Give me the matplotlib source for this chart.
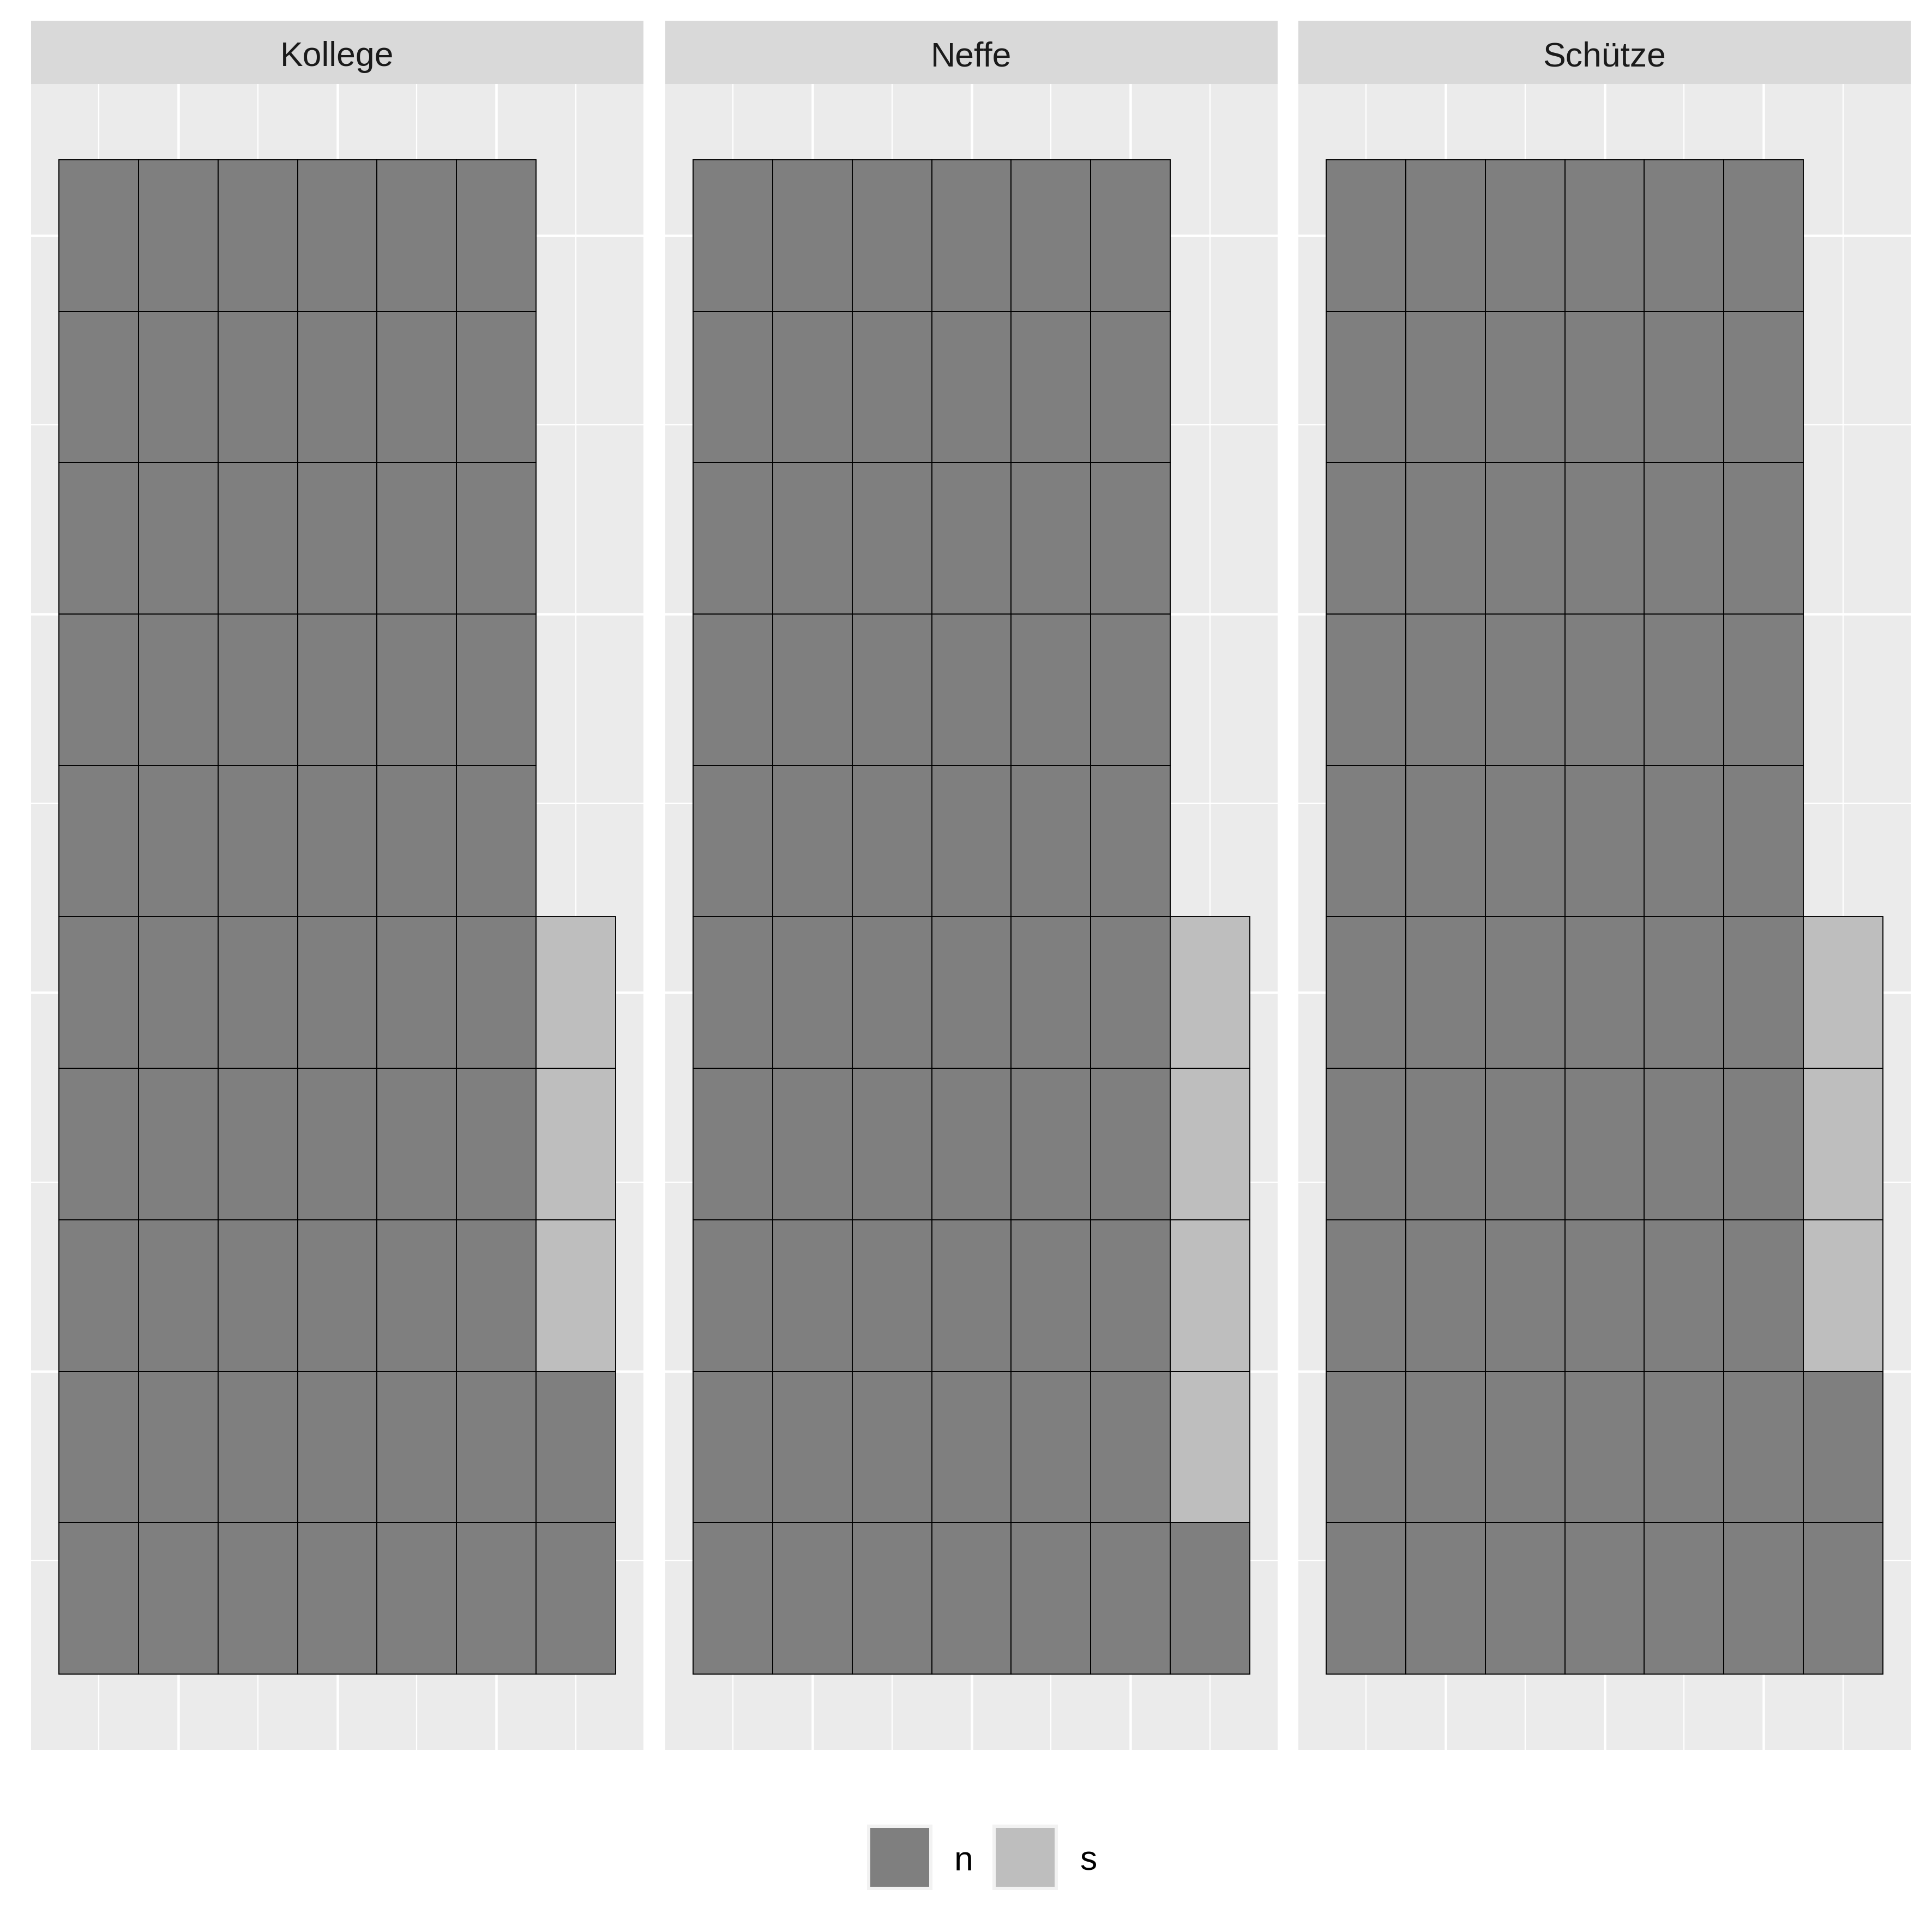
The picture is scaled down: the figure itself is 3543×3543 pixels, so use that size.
import matplotlib
matplotlib.use("Agg")
import matplotlib.pyplot as plt
from matplotlib.patches import Rectangle

plt.rcParams['font.family'] = ['Liberation Sans', 'DejaVu Sans']

# waffle counts per facet
facets = ['Kollege', 'Neffe', 'Schütze']
n_counts = [62, 61, 62]
s_counts = [3, 4, 3]
categories = ['n', 's']
colors = {'n': '#7F7F7F', 's': '#BEBEBE'}
n_rows = 10

W = 3543
fig = plt.figure(figsize=(W / 300, W / 300), dpi=300)

panel_left = [57, 1220, 2381]
panel_w = 1123
strip_top, strip_bot, panel_bot = 38, 154, 3209


def fx(px):
    return px / W


def fy(py):
    return 1 - py / W


for k, name in enumerate(facets):
    x0 = panel_left[k]
    ax = fig.add_axes([fx(x0), fy(panel_bot), panel_w / W, (panel_bot - strip_bot) / W])
    ax.set_facecolor('#EBEBEB')
    for sp in ax.spines.values():
        sp.set_visible(False)

    # build tile list column-wise, bottom to top
    cells = ['n'] * n_counts[k] + ['s'] * s_counts[k]
    xs = [i // n_rows + 1 for i in range(len(cells))]
    ys = [i % n_rows + 1 for i in range(len(cells))]
    cols = [colors[c] for c in cells]
    ax.bar(xs, [1] * len(cells), width=1, bottom=[y - 0.5 for y in ys],
           color=cols, edgecolor='black', linewidth=0.45, zorder=3)

    ax.set_xlim(0.15, 7.85)
    ax.set_ylim(0, 11)
    ax.set_xticks([2, 4, 6])
    ax.set_xticks([1, 3, 5, 7], minor=True)
    ax.set_yticks([2.5, 5, 7.5, 10])
    ax.set_yticks([1.25, 3.75, 6.25, 8.75], minor=True)
    ax.grid(which='major', color='white', linewidth=1.1, zorder=0)
    ax.grid(which='minor', color='white', linewidth=0.55, zorder=0)
    ax.tick_params(which='both', length=0, labelbottom=False, labelleft=False)
    ax.set_axisbelow(True)

    # strip
    sax = fig.add_axes([fx(x0), fy(strip_bot), panel_w / W, (strip_bot - strip_top) / W])
    sax.set_facecolor('#D9D9D9')
    sax.set_xticks([])
    sax.set_yticks([])
    for sp in sax.spines.values():
        sp.set_visible(False)
    sax.text(0.5, (strip_bot - 121) / (strip_bot - strip_top), name, ha='center',
             va='baseline', fontsize=15, color='#1A1A1A', transform=sax.transAxes)

# legend at bottom
lax = fig.add_axes([0, 0, 1, 1], facecolor='none')
lax.set_xlim(0, W)
lax.set_ylim(W, 0)
lax.axis('off')
key_x = [1590, 1820]
label_x = [1750, 1980]
key_top, key_size = 3346, 120
for c, kx, tx in zip(categories, key_x, label_x):
    lax.add_patch(Rectangle((kx, key_top), key_size, key_size, facecolor='#F2F2F2', edgecolor='none'))
    lax.add_patch(Rectangle((kx + 6, key_top + 6), key_size - 12, key_size - 12,
                            facecolor=colors[c], edgecolor='none'))
    lax.text(tx, 3430, c, ha='left', va='baseline', fontsize=15, color='black')

fig.savefig('out.png', dpi=300, facecolor='white')
